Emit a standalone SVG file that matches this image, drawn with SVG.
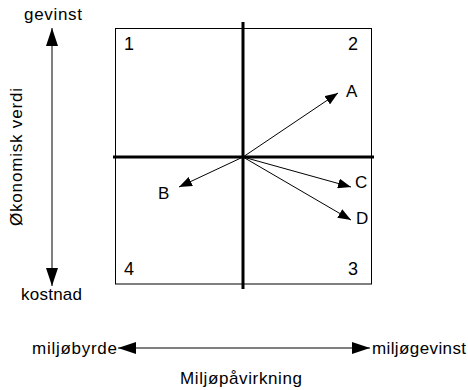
<svg xmlns="http://www.w3.org/2000/svg" width="468" height="390" viewBox="0 0 468 390">
<defs>
<style>
text{font-family:"Liberation Sans",Arial,sans-serif;font-size:17px;fill:#000}
.digit{font-size:18px}
.thin{stroke:#000;stroke-width:1;fill:none}
.thick{stroke:#000;stroke-width:3;fill:none}
</style>
<marker id="ah" markerUnits="userSpaceOnUse" markerWidth="13" markerHeight="10" refX="13" refY="5" orient="auto"><path d="M0,0 L13,5 L0,10 z" fill="#000"/></marker>
<marker id="big" markerUnits="userSpaceOnUse" markerWidth="18" markerHeight="12" refX="18" refY="6" orient="auto"><path d="M0,0 L18,6 L0,12 z" fill="#000"/></marker>
</defs>
<rect id="frame" x="115.5" y="28.5" width="256" height="255.5" fill="#fff" stroke="#000" stroke-width="1"/>
<g id="axes-inner">
<line class="thick" x1="243" y1="22" x2="243" y2="289"/>
<line class="thick" x1="113" y1="157" x2="374" y2="157"/>
</g>
<g id="quadrant-labels">
<text class="digit" x="124" y="50">1</text>
<text class="digit" x="348" y="50">2</text>
<text class="digit" x="348" y="275">3</text>
<text class="digit" x="124" y="275">4</text>
</g>
<g id="connectors">
<line class="thin" x1="243" y1="157" x2="338" y2="93" marker-end="url(#ah)"/>
<line class="thin" x1="243" y1="157" x2="179" y2="187" marker-end="url(#ah)"/>
<line class="thin" x1="243" y1="157" x2="351" y2="187" marker-end="url(#ah)"/>
<line class="thin" x1="243" y1="157" x2="351" y2="220" marker-end="url(#ah)"/>
<line class="thin" x1="52" y1="45" x2="52" y2="28" marker-end="url(#big)"/>
<line class="thin" x1="52" y1="45" x2="52" y2="286" marker-end="url(#big)"/>
<line class="thin" x1="240" y1="348" x2="118" y2="348" marker-end="url(#big)"/>
<line class="thin" x1="240" y1="348" x2="370" y2="348" marker-end="url(#big)"/>
</g>
<g id="node-A"><text x="346" y="97">A</text></g>
<g id="node-B"><text x="158" y="199">B</text></g>
<g id="node-C"><text x="355" y="188">C</text></g>
<g id="node-D"><text x="356" y="224">D</text></g>
<g id="axis-labels">
<text x="24" y="20" textLength="58" lengthAdjust="spacing">gevinst</text>
<text x="21" y="300" textLength="61" lengthAdjust="spacing">kostnad</text>
<text transform="translate(22,157) rotate(-90)" text-anchor="middle" textLength="138" lengthAdjust="spacing">Økonomisk verdi</text>
<text x="32" y="354" textLength="85" lengthAdjust="spacing">miljøbyrde</text>
<text x="372" y="354" textLength="94" lengthAdjust="spacing">miljøgevinst</text>
<text x="180" y="384" textLength="122" lengthAdjust="spacing">Miljøpåvirkning</text>
</g>
</svg>
